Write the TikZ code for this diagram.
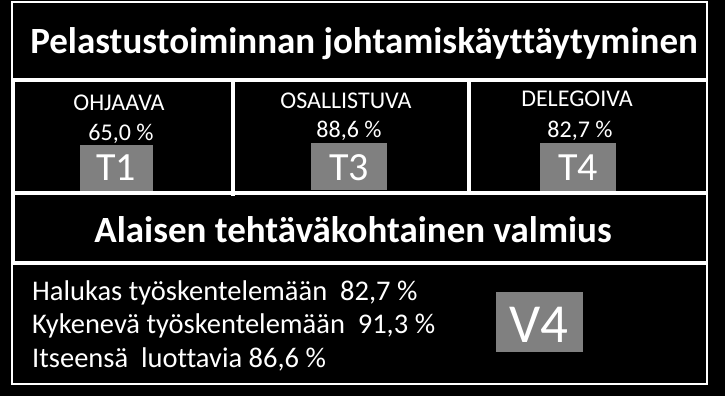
\documentclass[tikz,border=0pt]{standalone}
\usepackage{fontspec}
\setmainfont{Carlito}[Ligatures=NoCommon]
\definecolor{boxgray}{RGB}{128,128,128}
\tikzset{
  frame/.style={draw=white, line width=2.5pt},
  inner/.style={draw=white, line width=4pt},
  title/.style={text=white, anchor=base, inner sep=0pt, font=\bfseries\fontsize{37}{37}\selectfont},
  label/.style={text=white, anchor=base, inner sep=0pt, font=\fontsize{24}{24}\selectfont},
  tag/.style={fill=boxgray, draw=none},
  tagtext/.style={text=white, anchor=base, inner sep=0pt, font=\fontsize{40}{40}\selectfont},
  line/.style={text=white, anchor=base west, inner sep=0pt, font=\fontsize{28.5}{29}\selectfont}
}
\begin{document}
\begin{tikzpicture}[x=1pt,y=-1pt]
\useasboundingbox (0,0) rectangle (725,396);
\fill[black] (0,0) rectangle (725,396);
% frame and dividers
\draw[frame] (12,2) rectangle (707,384);
\draw[inner] (13,80) -- (13,263);
\draw[inner] (12,80) -- (707,80);
\draw[inner] (12,193) -- (707,193);
\draw[inner] (12,263) -- (707,263);
\draw[inner] (233,80) -- (233,196);
\draw[inner] (469,80) -- (469,193);
% header
\node[title] (head) at (364,53) {Pelastustoiminnan johtamiskäyttäytyminen};
% cells
\node[label] (ohj) at (119,110) {OHJAAVA};
\node[label] (ohjp) at (121,140) {65,0 \%};
\fill[tag] (80,145) rectangle (153,191);
\node[tagtext] (t1) at (116,180) {T1};
\node[label] (osa) at (346,108) {OSALLISTUVA};
\node[label] (osap) at (349,137) {88,6 \%};
\fill[tag] (311,143) rectangle (387,190);
\node[tagtext] (t3) at (349,180) {T3};
\node[label] (del) at (577,106) {DELEGOIVA};
\node[label] (delp) at (580,137) {82,7 \%};
\fill[tag] (540,143) rectangle (616,191);
\node[tagtext] (t4) at (578,180) {T4};
% second title
\node[title] (sub) at (353,242) {Alaisen tehtäväkohtainen valmius};
% bottom lines
\node[line] (l1) at (32,300) {Halukas työskentelemään\ \ 82,7 \%};
\node[line] (l2) at (32,333) {Kykenevä työskentelemään\ \ 91,3 \%};
\node[line] (l3) at (32,367) {Itseensä\ \ luottavia 86,6 \%};
\fill[tag] (496,292) rectangle (583,352);
\node[tagtext, font=\fontsize{55}{55}\selectfont] (v4) at (539,342) {V4};
\end{tikzpicture}
\end{document}
